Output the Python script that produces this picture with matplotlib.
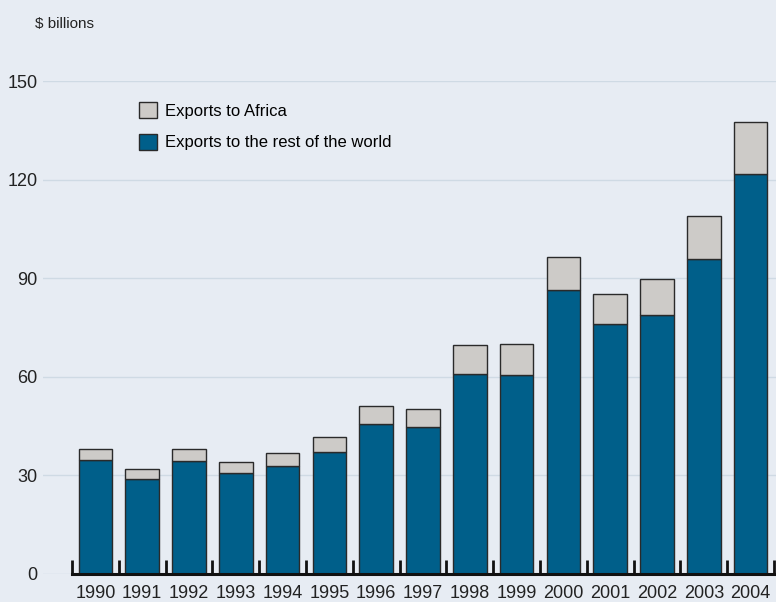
import numpy as np
import matplotlib
matplotlib.use("Agg")
import matplotlib.pyplot as plt
from matplotlib.patches import Patch

# Daten
years = ["1990", "1991", "1992", "1993", "1994", "1995", "1996", "1997",
         "1998", "1999", "2000", "2001", "2002", "2003", "2004"]
rest_of_world = [34.6, 29.0, 34.4, 30.7, 32.9, 37.1, 45.6, 44.7,
                 60.8, 60.5, 86.4, 76.1, 78.8, 95.8, 121.7]
total = [38.0, 32.0, 37.9, 34.2, 36.8, 41.7, 51.1, 50.2,
         69.7, 70.0, 96.4, 85.2, 89.7, 108.9, 137.5]
africa = [t - r for t, r in zip(total, rest_of_world)]
y_ticks = [0, 30, 60, 90, 120, 150]

bg = "#e7ecf3"
blue = "#005f8a"
grey = "#cdcbc8"
edge = "#2a2a2a"

plt.rcParams['font.family'] = ['Liberation Sans', 'DejaVu Sans']

fig = plt.figure(figsize=(7.76, 6.02), dpi=100, facecolor=bg)
ax = fig.add_axes([43 / 776, 28 / 602, 733 / 776, 493 / 602], facecolor=bg)

x = np.arange(len(years))
w = 0.72
ax.bar(x, rest_of_world, w, color=blue, edgecolor=edge, lw=1.0, zorder=3)
ax.bar(x, africa, w, bottom=rest_of_world, color=grey, edgecolor=edge,
       lw=1.0, zorder=3)

ax.set_ylim(0, 150)
ax.set_xlim(-0.5 - 29 / 46.8, 14.5 + 2 / 46.8)

ax.set_yticks(y_ticks)
ax.set_yticklabels([str(v) for v in y_ticks], fontsize=13, color="#222222")
ax.tick_params(axis='y', length=0, pad=4)
ax.yaxis.grid(True, color="#cfdae4", lw=1.0, zorder=0)

ax.set_xticks(x)
ax.set_xticklabels(years, fontsize=13, color="#222222")
ax.set_xticks(np.arange(-0.5, 15, 1.0), minor=True)
ax.tick_params(axis='x', which='major', length=0, pad=8)
ax.tick_params(axis='x', which='minor', direction='in', length=10,
               width=2, color="#111111")

for s in ['top', 'right', 'left']:
    ax.spines[s].set_visible(False)
ax.spines['bottom'].set_bounds(-0.5, 14.5)
ax.spines['bottom'].set_linewidth(2.2)
ax.spines['bottom'].set_color("#111111")
ax.spines['bottom'].set_zorder(5)

fig.text(35 / 776, 1 - 24 / 602, "$ billions", fontsize=11,
         color="#222222", va='center')

handles = [Patch(facecolor=grey, edgecolor=edge, lw=1.0),
           Patch(facecolor=blue, edgecolor=edge, lw=1.0)]
ax.legend(handles, ["Exports to Africa", "Exports to the rest of the world"],
          loc='upper left', bbox_to_anchor=(124 / 776, 1 - 87 / 602),
          bbox_transform=fig.transFigure, frameon=False, fontsize=12,
          handlelength=1.1, handleheight=1.1, handletextpad=0.45,
          labelspacing=0.9)

fig.savefig("out.png", dpi=100, facecolor=bg)
